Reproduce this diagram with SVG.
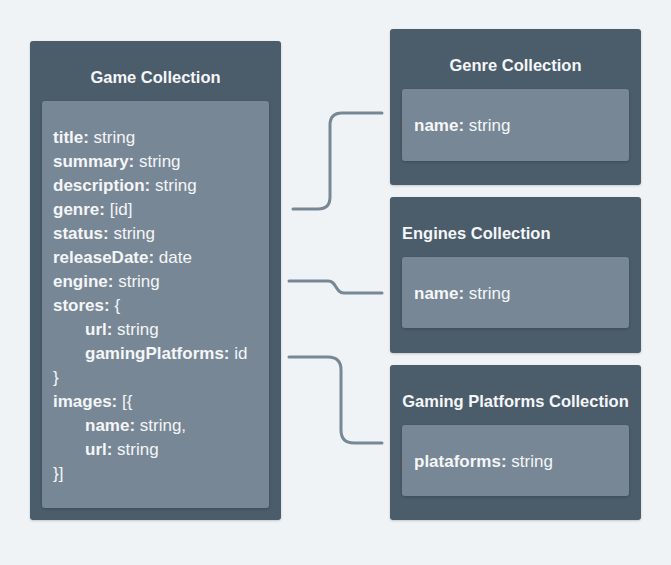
<svg xmlns="http://www.w3.org/2000/svg" width="671" height="565" viewBox="0 0 671 565">
  <style>
    .outer { fill: #4b5b6a; filter: url(#sh); }
    .inner { fill: #788795; filter: url(#sh2); }
    text { font-family: "Liberation Sans", Arial, sans-serif; font-size: 17px; fill: #f4f6f8; }
    .title { font-weight: bold; font-size: 16.5px; }
    .k { font-weight: bold; }
    .conn { fill: none; stroke: #788795; stroke-width: 3; stroke-linecap: round; stroke-linejoin: round; }
  </style>
  <defs>
    <filter id="sh" x="-10%" y="-10%" width="120%" height="120%">
      <feDropShadow dx="0" dy="1" stdDeviation="1.2" flood-color="#000" flood-opacity="0.18"/>
    </filter>
    <filter id="sh2" x="-10%" y="-10%" width="120%" height="120%">
      <feDropShadow dx="0" dy="1" stdDeviation="1.5" flood-color="#000" flood-opacity="0.2"/>
    </filter>
  </defs>
  <rect width="671" height="565" fill="#eff3f6"/>

  <g id="connectors">
    <path class="conn" d="M293,209 H318 Q330,209 330,197 V125 Q330,113 342,113 H382"/>
    <path class="conn" d="M289,281 H328 C337,281 335,293 344,293 H382"/>
    <path class="conn" d="M289,357 H328 Q341,357 341,370 V430 Q341,443 354,443 H382"/>
  </g>

  <g id="game-collection">
    <rect class="outer" x="30" y="41" width="251" height="479" rx="3"/>
    <text class="title" x="155.5" y="83" text-anchor="middle">Game Collection</text>
    <rect class="inner" x="42" y="101" width="227" height="407" rx="3"/>
    <text x="53" y="143"><tspan class="k">title:</tspan> string</text>
    <text x="53" y="167"><tspan class="k">summary:</tspan> string</text>
    <text x="53" y="191"><tspan class="k">description:</tspan> string</text>
    <text x="53" y="215"><tspan class="k">genre:</tspan> [id]</text>
    <text x="53" y="239"><tspan class="k">status:</tspan> string</text>
    <text x="53" y="263"><tspan class="k">releaseDate:</tspan> date</text>
    <text x="53" y="287"><tspan class="k">engine:</tspan> string</text>
    <text x="53" y="311"><tspan class="k">stores:</tspan> {</text>
    <text x="85" y="335"><tspan class="k">url:</tspan> string</text>
    <text x="85" y="359"><tspan class="k">gamingPlatforms:</tspan> id</text>
    <text x="53" y="383">}</text>
    <text x="53" y="407"><tspan class="k">images:</tspan> [{</text>
    <text x="85" y="431"><tspan class="k">name:</tspan> string,</text>
    <text x="85" y="455"><tspan class="k">url:</tspan> string</text>
    <text x="53" y="479">}]</text>
  </g>

  <g id="genre-collection">
    <rect class="outer" x="390" y="29" width="251" height="156" rx="3"/>
    <text class="title" x="515.5" y="71" text-anchor="middle">Genre Collection</text>
    <rect class="inner" x="402" y="89" width="227" height="72" rx="3"/>
    <text x="414" y="131"><tspan class="k">name:</tspan> string</text>
  </g>

  <g id="engines-collection">
    <rect class="outer" x="390" y="197" width="251" height="156" rx="3"/>
    <text class="title" x="402" y="239">Engines Collection</text>
    <rect class="inner" x="402" y="257" width="227" height="71" rx="3"/>
    <text x="414" y="299"><tspan class="k">name:</tspan> string</text>
  </g>

  <g id="gaming-platforms-collection">
    <rect class="outer" x="390" y="365" width="251" height="155" rx="3"/>
    <text class="title" x="515.5" y="407" text-anchor="middle">Gaming Platforms Collection</text>
    <rect class="inner" x="402" y="425" width="227" height="71" rx="3"/>
    <text x="414" y="467"><tspan class="k">plataforms:</tspan> string</text>
  </g>
</svg>
